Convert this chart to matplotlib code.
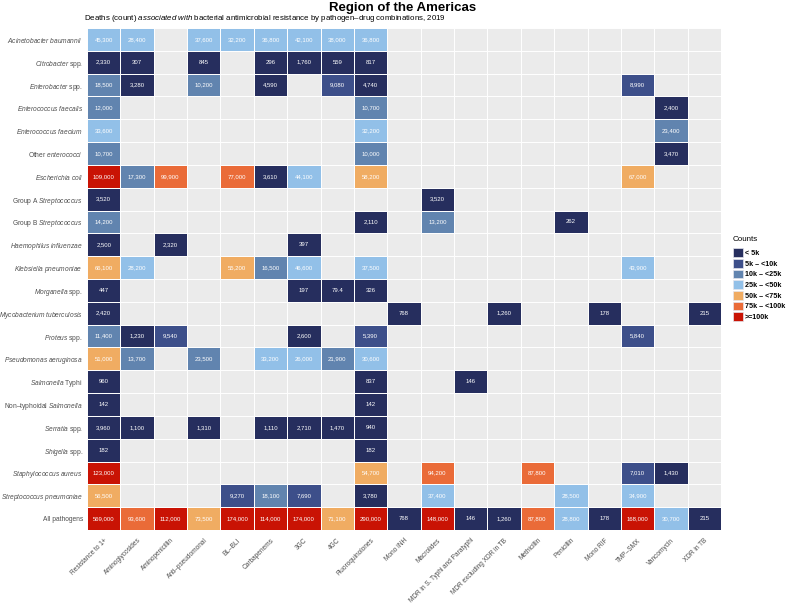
import numpy as np
import matplotlib
matplotlib.use("Agg")
import matplotlib.pyplot as plt
from matplotlib.colors import ListedColormap, BoundaryNorm
from matplotlib.patches import Patch

plt.rcParams["font.family"] = ["Liberation Sans", "DejaVu Sans"]
plt.rcParams["mathtext.fontset"] = "custom"
plt.rcParams["mathtext.rm"] = "Liberation Sans"
plt.rcParams["mathtext.it"] = "Liberation Sans:italic"

# row labels (mathtext marks the italic parts)
pathogens = [
    r"$\mathit{Acinetobacter\ baumannii}$",
    r"$\mathit{Citrobacter}$ spp.",
    r"$\mathit{Enterobacter}$ spp.",
    r"$\mathit{Enterococcus\ faecalis}$",
    r"$\mathit{Enterococcus\ faecium}$",
    r"Other $\mathit{enterococci}$",
    r"$\mathit{Escherichia\ coli}$",
    r"Group A $\mathit{Streptococcus}$",
    r"Group B $\mathit{Streptococcus}$",
    r"$\mathit{Haemophilus\ influenzae}$",
    r"$\mathit{Klebsiella\ pneumoniae}$",
    r"$\mathit{Morganella}$ spp.",
    r"$\mathit{Mycobacterium\ tuberculosis}$",
    r"$\mathit{Proteus}$ spp.",
    r"$\mathit{Pseudomonas\ aeruginosa}$",
    r"$\mathit{Salmonella}$ Typhi",
    r"Non–typhoidal $\mathit{Salmonella}$",
    r"$\mathit{Serratia}$ spp.",
    r"$\mathit{Shigella}$ spp.",
    r"$\mathit{Staphylococcus\ aureus}$",
    r"$\mathit{Streptococcus\ pneumoniae}$",
    "All pathogens",
]

drugs = ["Resistance to 1+", "Aminoglycosides", "Aminopenicillin", "Anti–pseudomonal",
         "BL–BLI", "Carbapenems", "3GC", "4GC", "Fluoroquinolones", "Mono INH",
         "Macrolides", "MDR in S. Typhi and Paratyphi", "MDR excluding XDR in TB",
         "Methicillin", "Penicillin", "Mono RIF", "TMP–SMX", "Vancomycin", "XDR in TB"]

N = None
deaths = [
    [45300, 28400, N, 37600, 32200, 36800, 42100, 38000, 36800, N, N, N, N, N, N, N, N, N, N],
    [2330, 307, N, 845, N, 296, 1760, 559, 817, N, N, N, N, N, N, N, N, N, N],
    [18500, 3280, N, 10200, N, 4590, N, 9080, 4740, N, N, N, N, N, N, N, 8990, N, N],
    [12000, N, N, N, N, N, N, N, 10700, N, N, N, N, N, N, N, N, 2400, N],
    [33600, N, N, N, N, N, N, N, 32200, N, N, N, N, N, N, N, N, 23400, N],
    [10700, N, N, N, N, N, N, N, 10000, N, N, N, N, N, N, N, N, 3470, N],
    [109000, 17300, 99900, N, 77000, 3610, 44100, N, 58200, N, N, N, N, N, N, N, 67000, N, N],
    [3520, N, N, N, N, N, N, N, N, N, 3520, N, N, N, N, N, N, N, N],
    [14200, N, N, N, N, N, N, N, 2110, N, 13200, N, N, N, 262, N, N, N, N],
    [2500, N, 2320, N, N, N, 397, N, N, N, N, N, N, N, N, N, N, N, N],
    [66100, 28200, N, N, 55200, 16500, 46600, N, 37500, N, N, N, N, N, N, N, 43900, N, N],
    [447, N, N, N, N, N, 197, 79.4, 326, N, N, N, N, N, N, N, N, N, N],
    [2420, N, N, N, N, N, N, N, N, 768, N, N, 1260, N, N, 178, N, N, 215],
    [11400, 1230, 9540, N, N, N, 2600, N, 5390, N, N, N, N, N, N, N, 5840, N, N],
    [51000, 13700, N, 23500, N, 33200, 26000, 21900, 30600, N, N, N, N, N, N, N, N, N, N],
    [960, N, N, N, N, N, N, N, 837, N, N, 146, N, N, N, N, N, N, N],
    [142, N, N, N, N, N, N, N, 142, N, N, N, N, N, N, N, N, N, N],
    [3960, 1100, N, 1310, N, 1110, 2710, 1470, 940, N, N, N, N, N, N, N, N, N, N],
    [182, N, N, N, N, N, N, N, 182, N, N, N, N, N, N, N, N, N, N],
    [123000, N, N, N, N, N, N, N, 54700, N, 94200, N, N, 87800, N, N, 7010, 1430, N],
    [56500, N, N, N, 9270, 18100, 7690, N, 3780, N, 37400, N, N, N, 28500, N, 34900, N, N],
    [569000, 93600, 112000, 73500, 174000, 114000, 174000, 71100, 290000, 768,
     148000, 146, 1260, 87800, 28800, 178, 168000, 30700, 215],
]

bins = [0, 5000, 10000, 25000, 50000, 75000, 100000, 1e7]
bin_labels = ["< 5k", "5k – <10k", "10k – <25k", "25k – <50k",
              "50k – <75k", "75k – <100k", ">=100k"]
bin_colors = ["#262E5E", "#3D4F8A", "#6184AF", "#92C0E8", "#F0AC62", "#EA6B38", "#C91304"]

vals = np.array([[np.nan if v is None else v for v in row] for row in deaths], dtype=float)
nrow, ncol = vals.shape

fig = plt.figure(figsize=(7.87, 6.03), dpi=100)
ax = fig.add_axes([87 / 787, 1 - 530 / 603, 634 / 787, 502 / 603])
ax.set_facecolor("#EBEBEB")

cmap = ListedColormap(bin_colors)
norm = BoundaryNorm(bins, cmap.N)
ax.pcolormesh(np.arange(ncol + 1), np.arange(nrow + 1), np.ma.masked_invalid(vals),
              cmap=cmap, norm=norm, edgecolors="#E4E4EC", linewidth=0.5)

for i in range(nrow):
    for j in range(ncol):
        v = vals[i, j]
        if np.isnan(v):
            continue
        txt = f"{v:,.0f}" if v >= 100 else f"{v:g}"
        ax.text(j + 0.5, i + 0.5, txt, ha="center", va="center", color="white", fontsize=4.3)

ax.set_xlim(0, ncol)
ax.set_ylim(nrow, 0)
ax.set_xticks(np.arange(ncol) + 0.5)
ax.set_xticklabels(drugs, rotation=45, ha="right", va="top", rotation_mode="anchor",
                   fontsize=4.7, color="#4D4D4D")
ax.set_yticks(np.arange(nrow) + 0.5)
ax.set_yticklabels(pathogens, fontsize=4.8, color="#4D4D4D")
ax.tick_params(axis="x", length=0, pad=5)
ax.tick_params(axis="y", length=0, pad=3)
ax.set_xticks(np.arange(ncol + 1), minor=True)
ax.set_yticks(np.arange(nrow + 1), minor=True)
ax.tick_params(which="minor", length=0)
ax.grid(which="minor", color="white", linewidth=0.7)
ax.grid(which="major", visible=False)
for s in ax.spines.values():
    s.set_visible(False)

fig.text(403 / 787, 1 - 8 / 603, "Region of the Americas", ha="center", va="center",
         fontsize=9.5, fontweight="bold")
fig.text(84 / 787, 1 - 19 / 603,
         r"Deaths (count) $\mathit{associated\ with}$ bacterial antimicrobial resistance by pathogen–drug combinations, 2019",
         ha="left", va="center", fontsize=5.65)

handles = [Patch(facecolor=c, edgecolor="#E4E4EC", linewidth=0.5) for c in bin_colors]
leg = fig.legend(handles, bin_labels, title="Counts", loc="upper left",
                 bbox_to_anchor=(730 / 787, 1 - 233 / 603), frameon=False,
                 fontsize=5.1, title_fontsize=5.8, handlelength=1.45, handleheight=1.5,
                 labelspacing=0.28, handletextpad=0.3, borderaxespad=0)
leg._legend_box.align = "left"
leg._legend_box.sep = 4
for t in leg.get_texts():
    t.set_fontweight("bold")

fig.savefig("out.png", dpi=100)
